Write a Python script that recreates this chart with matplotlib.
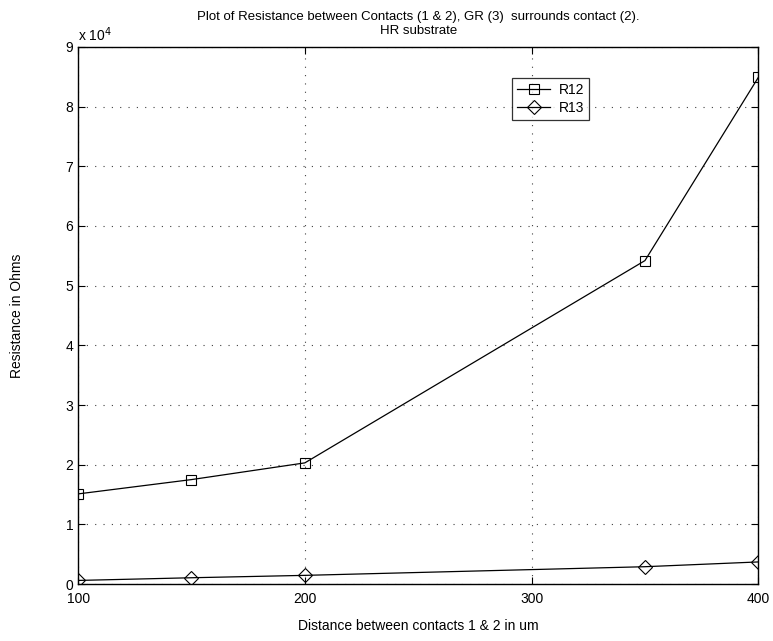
import matplotlib.pyplot as plt

distance = [100, 150, 200, 350, 400]
r12 = [15100, 17500, 20300, 54200, 84900]
r13 = [600, 1050, 1450, 2900, 3700]

x_ticks = [100, 200, 300, 400]
y_ticks = [0, 10000, 20000, 30000, 40000, 50000, 60000, 70000, 80000, 90000]
y_labels = ['0', '1', '2', '3', '4', '5', '6', '7', '8', '9']


def main():
    plt.rcParams['font.family'] = ['Liberation Sans', 'DejaVu Sans']
    fig = plt.figure(figsize=(7.73, 6.41), dpi=100)
    ax = fig.add_axes([0.101, 0.0889, 0.880, 0.8378])

    ax.plot(distance, r12, color='black', lw=0.9, marker='s', ms=7,
            mfc='none', mec='black', mew=0.8, label='R12')
    ax.plot(distance, r13, color='black', lw=0.9, marker='D', ms=7,
            mfc='none', mec='black', mew=0.8, label='R13')

    ax.set_xlim(100, 400)
    ax.set_ylim(0, 90000)
    ax.set_xticks(x_ticks)
    ax.set_yticks(y_ticks)
    ax.set_yticklabels(y_labels)
    ax.tick_params(direction='in', top=True, right=True, labelsize=10, length=5)
    ax.tick_params(axis='x', pad=6)
    ax.tick_params(axis='y', pad=3.5)
    ax.grid(True, linestyle=(0, (1, 6.5)), color='0.25', lw=0.8)
    for s in ax.spines.values():
        s.set_linewidth(1.0)

    ax.text(0.0, 1.011, r'x 10$^4$', transform=ax.transAxes, fontsize=10,
            ha='left', va='baseline')

    ax.set_title('Plot of Resistance between Contacts (1 & 2), GR (3)  surrounds contact (2).\nHR substrate',
                 fontsize=9.5, pad=9, linespacing=1.3)
    ax.set_xlabel('Distance between contacts 1 & 2 in um', fontsize=10, labelpad=9)
    ax.set_ylabel('Resistance in Ohms', fontsize=10, labelpad=30)

    leg = ax.legend(loc='upper left', bbox_to_anchor=(0.638, 0.942), fontsize=10,
                    frameon=True, fancybox=False, edgecolor='black',
                    borderpad=0.35, handlelength=2.4, labelspacing=0.3,
                    handletextpad=0.6, borderaxespad=0)
    leg.get_frame().set_linewidth(0.9)

    fig.savefig('out.png', dpi=100)


if __name__ == "__main__":
    main()
